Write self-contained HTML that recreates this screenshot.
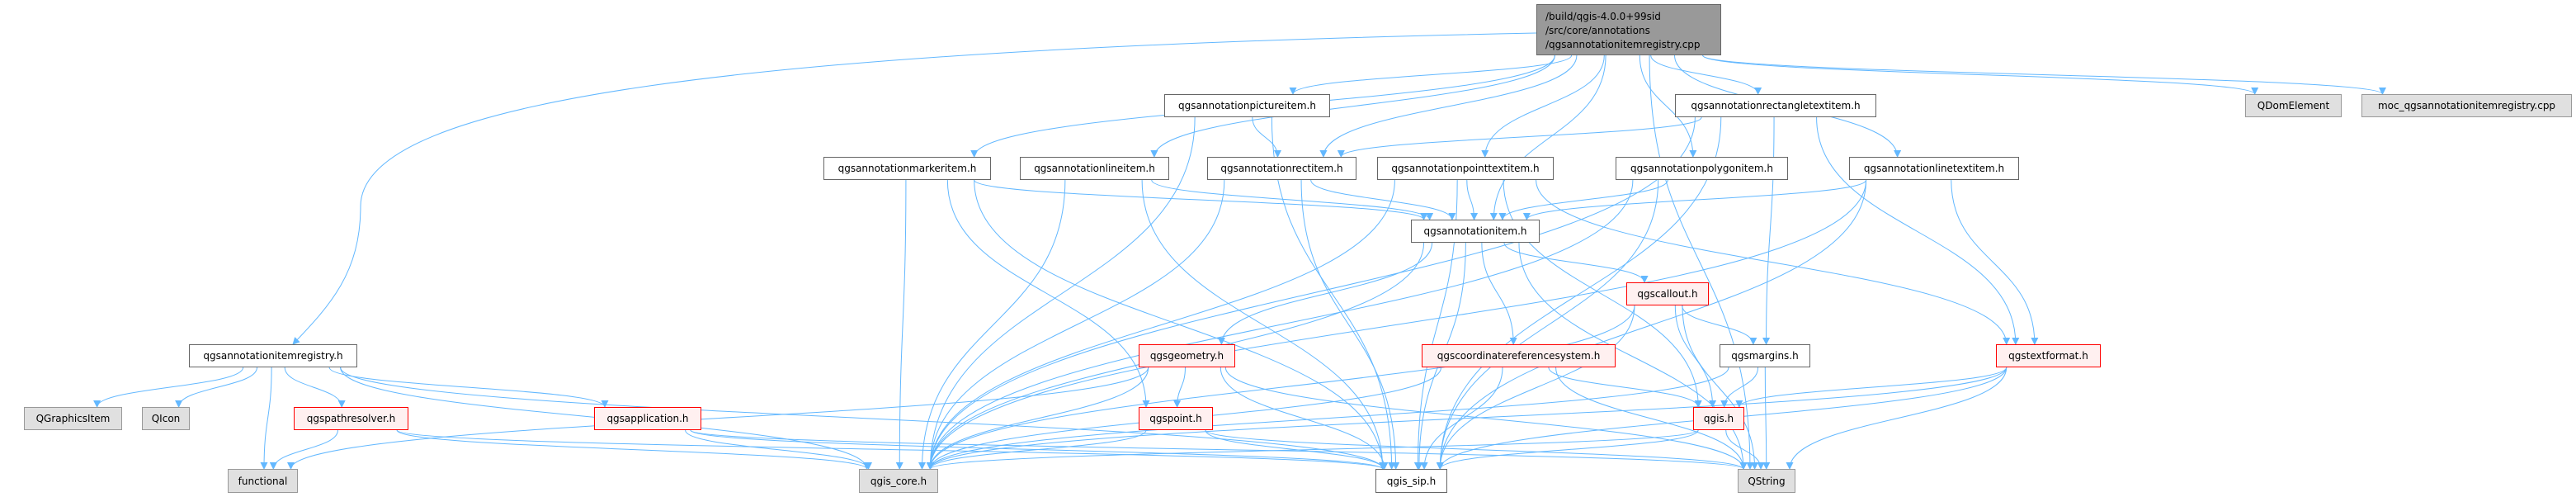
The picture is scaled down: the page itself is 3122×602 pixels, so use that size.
<!DOCTYPE html>
<html><head><meta charset="utf-8">
<style>
html,body{margin:0;padding:0;background:#fff;}
#c{position:relative;width:3122px;height:602px;overflow:hidden;font-family:"DejaVu Sans","Liberation Sans",sans-serif;font-size:12px;color:#000;}
.n{position:absolute;box-sizing:border-box;border:1.5px solid #666;background:#fff;display:flex;align-items:center;justify-content:center;white-space:nowrap;}
.g{background:#e0e0e0;border-color:#999;}
.r{background:#fff0f0;border-color:#f00;}
.root{background:#999;border-color:#666;display:block;padding:6px 0 0 10px;line-height:17px;justify-content:flex-start;}
svg{position:absolute;left:0;top:0;}
</style></head><body>
<div id="c">
<svg id="s" width="3122" height="602" viewBox="0 0 3122 602">
<defs><marker id="a" markerWidth="9" markerHeight="9" refX="8" refY="4.5" orient="auto" markerUnits="userSpaceOnUse"><path d="M0,0 L9,4.5 L0,9 z" fill="#63b8ff"/></marker></defs>
<g id="e" fill="none" stroke="#63b8ff" stroke-width="1"></g>
</svg>
<div class="n root" style="left:1862px;top:5px;width:224px;height:62px;">/build/qgis-4.0.0+99sid<br>/src/core/annotations<br>/qgsannotationitemregistry.cpp</div>
<div class="n" style="left:229px;top:417px;width:204px;height:28px;">qgsannotationitemregistry.h</div>
<div class="n g" style="left:29px;top:493px;width:119px;height:28px;">QGraphicsItem</div>
<div class="n g" style="left:172px;top:493px;width:58px;height:28px;">QIcon</div>
<div class="n r" style="left:356px;top:493px;width:139px;height:28px;">qgspathresolver.h</div>
<div class="n r" style="left:720px;top:493px;width:130px;height:28px;">qgsapplication.h</div>
<div class="n g" style="left:276px;top:568px;width:85px;height:29px;">functional</div>
<div class="n g" style="left:1041px;top:568px;width:96px;height:29px;">qgis_core.h</div>
<div class="n" style="left:1411px;top:114px;width:201px;height:28px;">qgsannotationpictureitem.h</div>
<div class="n" style="left:998px;top:190px;width:203px;height:28px;">qgsannotationmarkeritem.h</div>
<div class="n" style="left:1236px;top:190px;width:181px;height:28px;">qgsannotationlineitem.h</div>
<div class="n" style="left:1463px;top:190px;width:181px;height:28px;">qgsannotationrectitem.h</div>
<div class="n" style="left:1669px;top:190px;width:214px;height:28px;">qgsannotationpointtextitem.h</div>
<div class="n" style="left:1958px;top:190px;width:209px;height:28px;">qgsannotationpolygonitem.h</div>
<div class="n" style="left:1710px;top:266px;width:156px;height:28px;">qgsannotationitem.h</div>
<div class="n r" style="left:1971px;top:342px;width:100px;height:28px;">qgscallout.h</div>
<div class="n r" style="left:1380px;top:417px;width:117px;height:28px;">qgsgeometry.h</div>
<div class="n r" style="left:1723px;top:417px;width:235px;height:28px;">qgscoordinatereferencesystem.h</div>
<div class="n" style="left:2084px;top:417px;width:110px;height:28px;">qgsmargins.h</div>
<div class="n r" style="left:1380px;top:493px;width:90px;height:28px;">qgspoint.h</div>
<div class="n r" style="left:2052px;top:493px;width:62px;height:28px;">qgis.h</div>
<div class="n" style="left:1667px;top:568px;width:87px;height:29px;">qgis_sip.h</div>
<div class="n g" style="left:2106px;top:568px;width:70px;height:29px;">QString</div>
<div class="n r" style="left:2419px;top:417px;width:127px;height:28px;">qgstextformat.h</div>
<div class="n" style="left:2030px;top:114px;width:244px;height:28px;">qgsannotationrectangletextitem.h</div>
<div class="n" style="left:2241px;top:190px;width:206px;height:28px;">qgsannotationlinetextitem.h</div>
<div class="n g" style="left:2721px;top:114px;width:117px;height:28px;">QDomElement</div>
<div class="n g" style="left:2862px;top:114px;width:255px;height:28px;">moc_qgsannotationitemregistry.cpp</div>
</div>
<script>
var N={R:[1862,5,2086,67],REG:[229,417,433,445],GI:[29,493,148,521],QI:[172,493,230,521],PR:[356,493,495,521],APP:[720,493,850,521],FUN:[276,568,361,597],CORE:[1041,568,1137,597],PIC:[1411,114,1612,142],MARK:[998,190,1201,218],LINE:[1236,190,1417,218],RECT:[1463,190,1644,218],PT:[1669,190,1883,218],POLY:[1958,190,2167,218],ITEM:[1710,266,1866,294],CALL:[1971,342,2071,370],GEOM:[1380,417,1497,445],CRS:[1723,417,1958,445],MARG:[2084,417,2194,445],PNT:[1380,493,1470,521],QGIS:[2052,493,2114,521],SIP:[1667,568,1754,597],QSTR:[2106,568,2176,597],TF:[2419,417,2546,445],RTI:[2030,114,2274,142],LTI:[2241,190,2447,218],DOM:[2721,114,2838,142],MOC:[2862,114,3117,142]};
var E={R:["REG","PIC","MARK","LINE","RECT","PT","ITEM","POLY","RTI","LTI","DOM","MOC","QSTR"],
REG:["GI","QI","PR","APP","FUN","CORE","SIP"],PR:["FUN","CORE","SIP"],APP:["CORE","SIP","QSTR"],
PIC:["RECT","CORE","SIP"],MARK:["ITEM","CORE","SIP","PNT"],LINE:["ITEM","CORE","SIP"],RECT:["ITEM","CORE","SIP"],
PT:["ITEM","CORE","SIP","TF","QGIS"],POLY:["ITEM","CORE","SIP"],RTI:["RECT","MARG","TF","SIP","CORE"],
LTI:["ITEM","TF","CORE","SIP"],ITEM:["CALL","GEOM","CRS","CORE","SIP","QSTR"],CALL:["MARG","QGIS","CORE","SIP","QSTR"],
GEOM:["PNT","CORE","SIP","QSTR","FUN"],CRS:["QGIS","CORE","SIP","QSTR"],MARG:["QGIS","QSTR","CORE"],
PNT:["CORE","SIP","QSTR"],QGIS:["CORE","SIP","QSTR"],TF:["QGIS","CORE","SIP","QSTR"]};
var g=document.getElementById("e"),h="";
function cl(v,a,b){return Math.max(a,Math.min(b,v));}
for(var s in E){var a=N[s];E[s].forEach(function(t){var b=N[t];
var acx=(a[0]+a[2])/2,bcx=(b[0]+b[2])/2,sx,sy,tx,ty,d;
if(s=="R"&&t=="REG"){d="M1862,40 C900,60 437,120 437,250 C437,330 400,370 355,417";}
else if(b[1]>=a[3]-2){
 sx=acx+cl((bcx-acx)*0.15,-(a[2]-a[0])*0.4,(a[2]-a[0])*0.4);sy=a[3];
 tx=bcx+cl((acx-bcx)*0.12,-(b[2]-b[0])*0.4,(b[2]-b[0])*0.4);ty=b[1];
 var dy=ty-sy;d="M"+sx+","+sy+" C"+sx+","+(sy+dy*0.5)+" "+tx+","+(ty-dy*0.5)+" "+tx+","+ty;
} else if(b[1]<a[1]&&b[3]>a[1]){
 sx=(bcx<acx)?a[0]:a[2];sy=(a[1]+a[3])/2;tx=(bcx<acx)?b[2]:b[0];ty=(b[1]+b[3])/2;
 d="M"+sx+","+sy+" C"+((sx+tx)/2)+","+sy+" "+((sx+tx)/2)+","+ty+" "+tx+","+ty;
} else {
 sx=(bcx<acx)?a[0]:a[2];sy=(a[1]+a[3])/2;tx=bcx;ty=b[1];
 d="M"+sx+","+sy+" C"+tx+","+sy+" "+tx+","+sy+" "+tx+","+ty;
}
h+='<path d="'+d+'" marker-end="url(#a)"/>';});}
g.innerHTML=h;
</script>
</body></html>
